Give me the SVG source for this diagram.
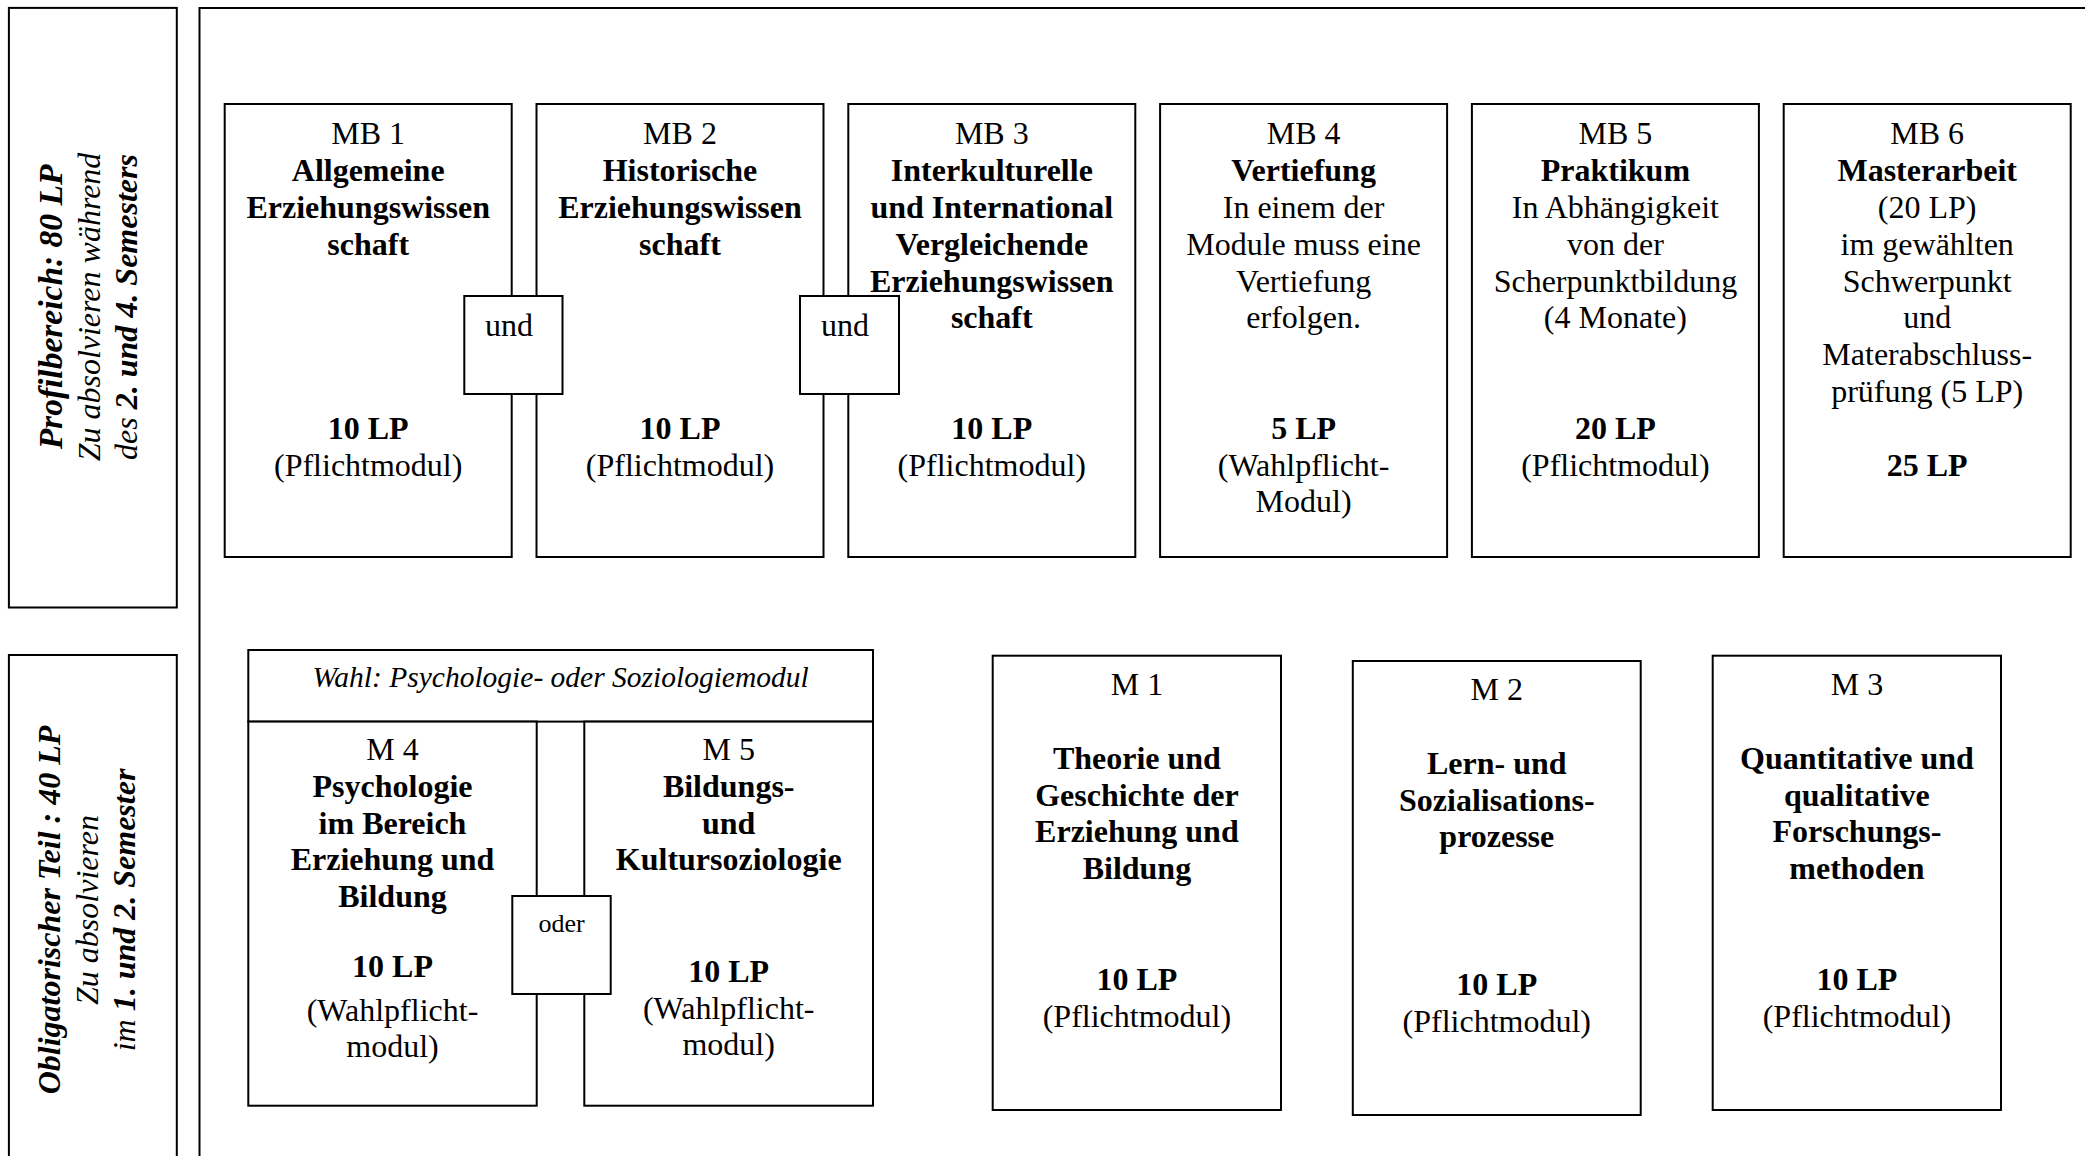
<svg xmlns="http://www.w3.org/2000/svg" width="2085" height="1156" viewBox="0 0 2085 1156">
<style>
.box{fill:#fff;stroke:#000;stroke-width:2}
.frame{fill:none;stroke:#000;stroke-width:2}
text{font-family:"Liberation Serif","Times New Roman",serif;font-size:32px;fill:#000}
.c{text-anchor:middle}
.b{font-weight:bold}
.i{font-style:italic}
.s{font-size:26px}
.w{font-size:29.5px}
.big{font-size:33.5px}
</style>
<rect x="0" y="0" width="2085" height="1156" fill="#fff"/>

<g id="frame">
<path class="frame" d="M199.5,1160 V7.9 H2090"/>
</g>

<g id="profilbereich">
<rect class="box" x="8.9" y="7.9" width="167.9" height="599.6"/>
<text class="c" transform="translate(62,307) rotate(-90)"><tspan class="b i big" x="0" y="0">Profilbereich: 80 LP</tspan><tspan class="i" x="0" y="37.5">Zu absolvieren während</tspan><tspan x="0" y="75"><tspan class="i">des </tspan><tspan class="b i">2. und 4. Semesters</tspan></tspan></text>
</g>

<g id="obligatorisch">
<rect class="box" x="8.9" y="655" width="167.9" height="520"/>
<text class="c" transform="translate(60,910) rotate(-90)"><tspan class="b i" x="0" y="0">Obligatorischer Teil : 40 LP</tspan><tspan class="i" x="0" y="37.5">Zu absolvieren</tspan><tspan x="0" y="75"><tspan class="i">im </tspan><tspan class="b i">1. und 2. Semester</tspan></tspan></text>
</g>

<g id="mb1">
<rect class="box" x="224.7" y="104" width="287" height="453"/>
<text class="c"><tspan x="368.2" y="144.3">MB 1</tspan><tspan class="b" x="368.2" y="181.1">Allgemeine</tspan><tspan class="b" x="368.2" y="217.9">Erziehungswissen</tspan><tspan class="b" x="368.2" y="254.7">schaft</tspan><tspan class="b" x="368.2" y="438.7">10 LP</tspan><tspan x="368.2" y="475.5">(Pflichtmodul)</tspan></text>
</g>

<g id="mb2">
<rect class="box" x="536.5" y="104" width="287" height="453"/>
<text class="c"><tspan x="680" y="144.3">MB 2</tspan><tspan class="b" x="680" y="181.1">Historische</tspan><tspan class="b" x="680" y="217.9">Erziehungswissen</tspan><tspan class="b" x="680" y="254.7">schaft</tspan><tspan class="b" x="680" y="438.7">10 LP</tspan><tspan x="680" y="475.5">(Pflichtmodul)</tspan></text>
</g>

<g id="mb3">
<rect class="box" x="848.3" y="104" width="287" height="453"/>
<text class="c"><tspan x="991.8" y="144.3">MB 3</tspan><tspan class="b" x="991.8" y="181.1">Interkulturelle</tspan><tspan class="b" x="991.8" y="217.9">und International</tspan><tspan class="b" x="991.8" y="254.7">Vergleichende</tspan><tspan class="b" x="991.8" y="291.5">Erziehungswissen</tspan><tspan class="b" x="991.8" y="328.3">schaft</tspan><tspan class="b" x="991.8" y="438.7">10 LP</tspan><tspan x="991.8" y="475.5">(Pflichtmodul)</tspan></text>
</g>

<g id="mb4">
<rect class="box" x="1160.1" y="104" width="287" height="453"/>
<text class="c"><tspan x="1303.6" y="144.3">MB 4</tspan><tspan class="b" x="1303.6" y="181.1">Vertiefung</tspan><tspan x="1303.6" y="217.9">In einem der</tspan><tspan x="1303.6" y="254.7">Module muss eine</tspan><tspan x="1303.6" y="291.5">Vertiefung</tspan><tspan x="1303.6" y="328.3">erfolgen.</tspan><tspan class="b" x="1303.6" y="438.7">5 LP</tspan><tspan x="1303.6" y="475.5">(Wahlpflicht-</tspan><tspan x="1303.6" y="512.3">Modul)</tspan></text>
</g>

<g id="mb5">
<rect class="box" x="1471.9" y="104" width="287" height="453"/>
<text class="c"><tspan x="1615.4" y="144.3">MB 5</tspan><tspan class="b" x="1615.4" y="181.1">Praktikum</tspan><tspan x="1615.4" y="217.9">In Abhängigkeit</tspan><tspan x="1615.4" y="254.7">von der</tspan><tspan x="1615.4" y="291.5">Scherpunktbildung</tspan><tspan x="1615.4" y="328.3">(4 Monate)</tspan><tspan class="b" x="1615.4" y="438.7">20 LP</tspan><tspan x="1615.4" y="475.5">(Pflichtmodul)</tspan></text>
</g>

<g id="mb6">
<rect class="box" x="1783.7" y="104" width="287" height="453"/>
<text class="c"><tspan x="1927.2" y="144.3">MB 6</tspan><tspan class="b" x="1927.2" y="181.1">Masterarbeit</tspan><tspan x="1927.2" y="217.9">(20 LP)</tspan><tspan x="1927.2" y="254.7">im gewählten</tspan><tspan x="1927.2" y="291.5">Schwerpunkt</tspan><tspan x="1927.2" y="328.3">und</tspan><tspan x="1927.2" y="365.1">Materabschluss-</tspan><tspan x="1927.2" y="401.9">prüfung (5 LP)</tspan><tspan class="b" x="1927.2" y="475.5">25 LP</tspan></text>
</g>

<g id="und1">
<rect class="box" x="464.3" y="296" width="98.2" height="98"/>
<text class="c" x="509" y="336">und</text>
</g>

<g id="und2">
<rect class="box" x="800" y="296" width="99" height="98"/>
<text class="c" x="845" y="336">und</text>
</g>

<g id="wahl">
<rect class="box" x="248.3" y="650" width="624.7" height="71.6"/>
<text class="c i w" x="560.6" y="686.7">Wahl: Psychologie- oder Soziologiemodul</text>
</g>

<g id="m4">
<rect class="box" x="248.3" y="721.6" width="288.4" height="384.1"/>
<text class="c"><tspan x="392.5" y="760">M 4</tspan><tspan class="b" x="392.5" y="796.8">Psychologie</tspan><tspan class="b" x="392.5" y="833.6">im Bereich</tspan><tspan class="b" x="392.5" y="870.4">Erziehung und</tspan><tspan class="b" x="392.5" y="907.2">Bildung</tspan><tspan class="b" x="392.5" y="977">10 LP</tspan><tspan x="392.5" y="1021">(Wahlpflicht-</tspan><tspan x="392.5" y="1057">modul)</tspan></text>
</g>

<g id="m5">
<rect class="box" x="584.3" y="721.6" width="288.7" height="384.1"/>
<text class="c"><tspan x="728.7" y="760">M 5</tspan><tspan class="b" x="728.7" y="796.8">Bildungs-</tspan><tspan class="b" x="728.7" y="833.6">und</tspan><tspan class="b" x="728.7" y="870.4">Kultursoziologie</tspan><tspan class="b" x="728.7" y="982">10 LP</tspan><tspan x="728.7" y="1019">(Wahlpflicht-</tspan><tspan x="728.7" y="1055">modul)</tspan></text>
</g>

<g id="oder">
<rect class="box" x="512.3" y="896" width="98.4" height="98"/>
<text class="c s" x="561.5" y="931.7">oder</text>
</g>

<g id="m1">
<rect class="box" x="992.7" y="655.7" width="288.3" height="454.3"/>
<text class="c"><tspan x="1136.9" y="695">M 1</tspan><tspan class="b" x="1136.9" y="769">Theorie und</tspan><tspan class="b" x="1136.9" y="805.7">Geschichte der</tspan><tspan class="b" x="1136.9" y="842.4">Erziehung und</tspan><tspan class="b" x="1136.9" y="879.1">Bildung</tspan><tspan class="b" x="1136.9" y="990">10 LP</tspan><tspan x="1136.9" y="1026.7">(Pflichtmodul)</tspan></text>
</g>

<g id="m2">
<rect class="box" x="1352.8" y="661" width="287.9" height="454"/>
<text class="c"><tspan x="1496.8" y="700">M 2</tspan><tspan class="b" x="1496.8" y="774">Lern- und</tspan><tspan class="b" x="1496.8" y="810.7">Sozialisations-</tspan><tspan class="b" x="1496.8" y="847.4">prozesse</tspan><tspan class="b" x="1496.8" y="995.4">10 LP</tspan><tspan x="1496.8" y="1032.1">(Pflichtmodul)</tspan></text>
</g>

<g id="m3">
<rect class="box" x="1712.7" y="655.7" width="288.3" height="454.3"/>
<text class="c"><tspan x="1856.9" y="695">M 3</tspan><tspan class="b" x="1856.9" y="769">Quantitative und</tspan><tspan class="b" x="1856.9" y="805.7">qualitative</tspan><tspan class="b" x="1856.9" y="842.4">Forschungs-</tspan><tspan class="b" x="1856.9" y="879.1">methoden</tspan><tspan class="b" x="1856.9" y="990">10 LP</tspan><tspan x="1856.9" y="1026.7">(Pflichtmodul)</tspan></text>
</g>

<g id="connectors"></g>
</svg>
